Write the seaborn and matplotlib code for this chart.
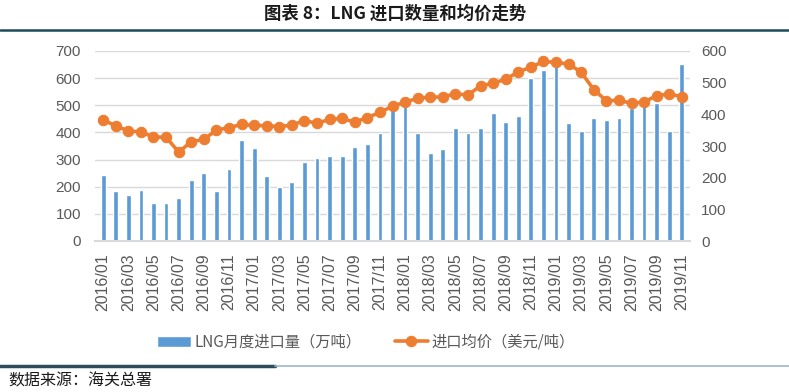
import numpy as np
import pandas as pd
import matplotlib.pyplot as plt
import seaborn as sns
from matplotlib.lines import Line2D

# LNG monthly import volume (10k tons) and average import price (USD/ton), 2016/01 - 2019/11
months = pd.period_range("2016-01", "2019-11", freq="M").strftime("%Y/%m").tolist()
volume = [245, 186, 170, 188, 141, 141, 160, 225, 252, 183, 266, 373,
          343, 238, 200, 216, 290, 304, 312, 313, 346, 357, 397, 481,
          498, 399, 325, 338, 415, 397, 415, 472, 437, 461, 600, 631,
          647, 436, 406, 455, 445, 455, 489, 502, 510, 405, 653]
price = [382, 364, 347, 345, 328, 328, 281, 313, 321, 350, 358, 368,
         365, 364, 361, 366, 380, 372, 384, 387, 375, 390, 406, 426,
         438, 451, 454, 455, 465, 461, 490, 498, 511, 534, 549, 567,
         564, 559, 533, 478, 443, 444, 435, 439, 459, 464, 456]
vol_label = "LNG月度进口量（万吨）"
price_label = "进口均价（美元/吨）"

sns.set_style("white")
plt.rcParams['font.family'] = ['Liberation Sans', 'Noto Sans CJK SC', 'DejaVu Sans']

blue = "#5B9BD5"
orange = "#ED7D31"
grey = "#595959"
cjk = ['Noto Sans CJK SC', 'DejaVu Sans']

fig = plt.figure(figsize=(7.89, 3.92), dpi=100)
ax = fig.add_axes([95 / 789, 1 - 241 / 392, 595 / 789, 190 / 392])

df = pd.DataFrame({"month": months, "volume": volume, "price": price})
df["x"] = np.arange(len(df))

sns.barplot(data=df, x="month", y="volume", ax=ax, color=blue, width=0.38,
            saturation=1, label=vol_label)

ax2 = ax.twinx()
sns.lineplot(data=df, x="x", y="price", ax=ax2, color=orange, linewidth=2.6,
             marker="o", markersize=7.5, markeredgecolor=orange, label=price_label)

ax.set_ylim(0, 700)
ax.set_yticks(range(0, 701, 100))
ax2.set_ylim(0, 600)
ax2.set_yticks(range(0, 601, 100))
ax.set_xlim(-0.65, len(df) - 0.35)
ax.set_xticks(range(0, len(df), 2))
ax.set_xticklabels(months[::2], rotation=90)
ax.set_xticks(np.arange(-0.5, len(df), 2), minor=True)

ax.grid(axis="y", color="#D9D9D9", linewidth=1)
ax.set_axisbelow(True)
for s in ["top", "left", "right"]:
    ax.spines[s].set_visible(False)
for s in ax2.spines.values():
    s.set_visible(False)
ax.spines["bottom"].set_color("#D9D9D9")
ax.spines["bottom"].set_linewidth(1.5)

ax.tick_params(axis="x", which="major", length=0, pad=9, labelsize=11.5, labelcolor=grey)
ax.tick_params(axis="x", which="minor", length=4, color="#D9D9D9", width=1)
ax.tick_params(axis="y", length=0, pad=10, labelsize=11, labelcolor=grey)
ax2.tick_params(axis="y", length=0, pad=8, labelsize=11, labelcolor=grey)
ax.set_xlabel("")
ax.set_ylabel("")
ax2.set_ylabel("")
ax2.set_xlabel("")

ax.get_legend() and ax.get_legend().remove()
ax2.get_legend() and ax2.get_legend().remove()
handles = [ax.patches[0], ax2.lines[0]]
fig.legend(handles, [vol_label, price_label], loc="center",
           bbox_to_anchor=(366 / 789, 1 - 342 / 392), ncol=2, frameon=False,
           prop={"family": cjk, "size": 11}, handlelength=2.2, columnspacing=2.2,
           handletextpad=0.2, labelcolor=grey)

fig.text(395 / 789, 1 - 14 / 392, "图表 8：LNG 进口数量和均价走势", ha="center", va="center",
         fontsize=12.5, fontweight="bold", family=cjk, color="#1a1a1a")
fig.add_artist(Line2D([0, 1], [1 - 29.5 / 392] * 2, color="#1F4A5A", linewidth=1.8))
fig.add_artist(Line2D([0, 275 / 789], [1 - 366 / 392] * 2, color="#2B4D5C", linewidth=2.5))
fig.add_artist(Line2D([275 / 789, 1], [1 - 366 / 392] * 2, color="#9DB7CB", linewidth=1.2))
fig.text(8 / 789, 1 - 381 / 392, "数据来源：海关总署", ha="left", va="center",
         fontsize=11.5, family=cjk, color="#1a1a1a")

plt.savefig("out.png", dpi=100)
